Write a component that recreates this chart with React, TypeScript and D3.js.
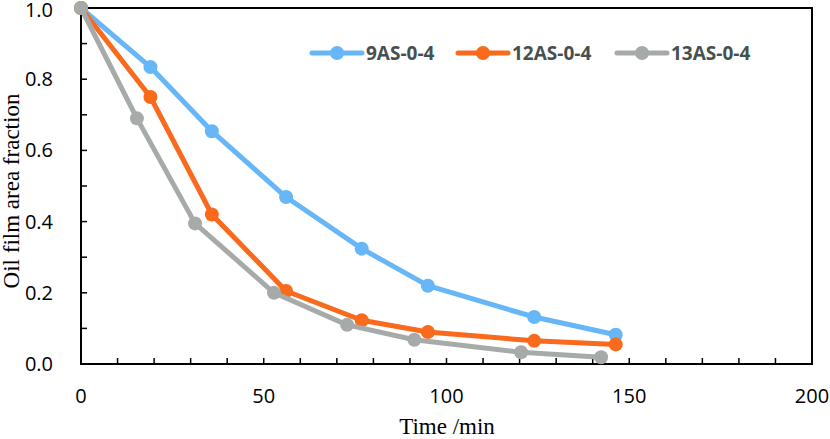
import React from "react";
import * as d3 from "d3";

const seriesNames = ["9AS-0-4", "12AS-0-4", "13AS-0-4"];
const seriesColors = ["#66b6f8", "#f96a1c", "#a6abaa"];
const blueX = [0, 19, 35.8, 56.1, 76.8, 94.9, 124, 146.3];
const blueY = [1.0, 0.834, 0.654, 0.469, 0.324, 0.22, 0.132, 0.082];
const orangeX = [0, 19, 35.8, 56.1, 76.8, 94.9, 124, 146.3];
const orangeY = [1.0, 0.75, 0.42, 0.205, 0.123, 0.09, 0.065, 0.055];
const grayX = [0, 15.3, 31.2, 52.8, 72.8, 91.2, 120.4, 142.3];
const grayY = [1.0, 0.69, 0.395, 0.2, 0.11, 0.068, 0.033, 0.019];
const xTickLabels = [0, 50, 100, 150, 200];
const yTickLabels = [0, 0.2, 0.4, 0.6, 0.8, 1.0];

const W = 830, H = 439;
const left = 81, right = 812, top = 8, bottom = 364;

export default function App() {
  const x = d3.scaleLinear().domain([0, 200]).range([left, right]);
  const y = d3.scaleLinear().domain([0, 1]).range([bottom, top]);
  const series = [
    { xs: blueX, ys: blueY },
    { xs: orangeX, ys: orangeY },
    { xs: grayX, ys: grayY },
  ];
  const line = d3.line<[number, number]>().x(d => x(d[0])).y(d => y(d[1]));
  const xMinor = d3.range(0, 201, 10);
  const yMinor = d3.range(0, 1.001, 0.1);
  const legendX = [312, 458, 617];
  const legendY = 53;
  return (
    <svg width={W} height={H} style={{ position: "absolute", left: 0, top: 0 }}>
      <rect x={0} y={0} width={W} height={H} fill="#fff" />
      <rect x={left} y={top} width={right - left} height={bottom - top} fill="none" stroke="#000" strokeWidth={2} />
      {xMinor.map(v => (
        <line key={"xt" + v} x1={x(v)} x2={x(v)} y1={bottom} y2={bottom - 6} stroke="#000" strokeWidth={1.5} />
      ))}
      {yMinor.map(v => (
        <line key={"yt" + v} x1={left} x2={left + 6} y1={y(v)} y2={y(v)} stroke="#000" strokeWidth={1.5} />
      ))}
      {xTickLabels.map(v => (
        <text key={"xl" + v} x={x(v)} y={403} textAnchor="middle" fontFamily="'Open Sans', 'DejaVu Sans', sans-serif" fontSize={20} fill="#000">{v}</text>
      ))}
      {yTickLabels.map(v => (
        <text key={"yl" + v} x={53} y={Math.max(y(v) + 7, 17)} textAnchor="end" fontFamily="'Open Sans', 'DejaVu Sans', sans-serif" fontSize={20} fill="#000">{v.toFixed(1)}</text>
      ))}
      <text x={447} y={434} textAnchor="middle" fontFamily="'Liberation Serif', 'Times New Roman', serif" fontSize={23} fill="#000">Time /min</text>
      <text transform={`translate(19, 191) rotate(-90)`} textAnchor="middle" fontFamily="'Liberation Serif', 'Times New Roman', serif" fontSize={23} fill="#000">Oil film area fraction</text>
      {series.map((s, i) => {
        const pts = s.xs.map((xv, j) => [xv, s.ys[j]] as [number, number]);
        return (
          <g key={"s" + i}>
            <path d={line(pts) || ""} fill="none" stroke={seriesColors[i]} strokeWidth={5} strokeLinejoin="round" />
            {pts.map((p, j) => (
              <circle key={j} cx={x(p[0])} cy={y(p[1])} r={7} fill={seriesColors[i]} />
            ))}
          </g>
        );
      })}
      {seriesNames.map((n, i) => (
        <g key={"lg" + i}>
          <line x1={legendX[i]} x2={legendX[i] + 50} y1={legendY} y2={legendY} stroke={seriesColors[i]} strokeWidth={5} strokeLinecap="round" />
          <circle cx={legendX[i] + 25} cy={legendY} r={7} fill={seriesColors[i]} />
          <text x={legendX[i] + 54} y={legendY + 7} fontFamily="'Open Sans', 'Liberation Sans', sans-serif" fontWeight="bold" fontSize={19} fill="#475050">{n}</text>
        </g>
      ))}
    </svg>
  );
}
